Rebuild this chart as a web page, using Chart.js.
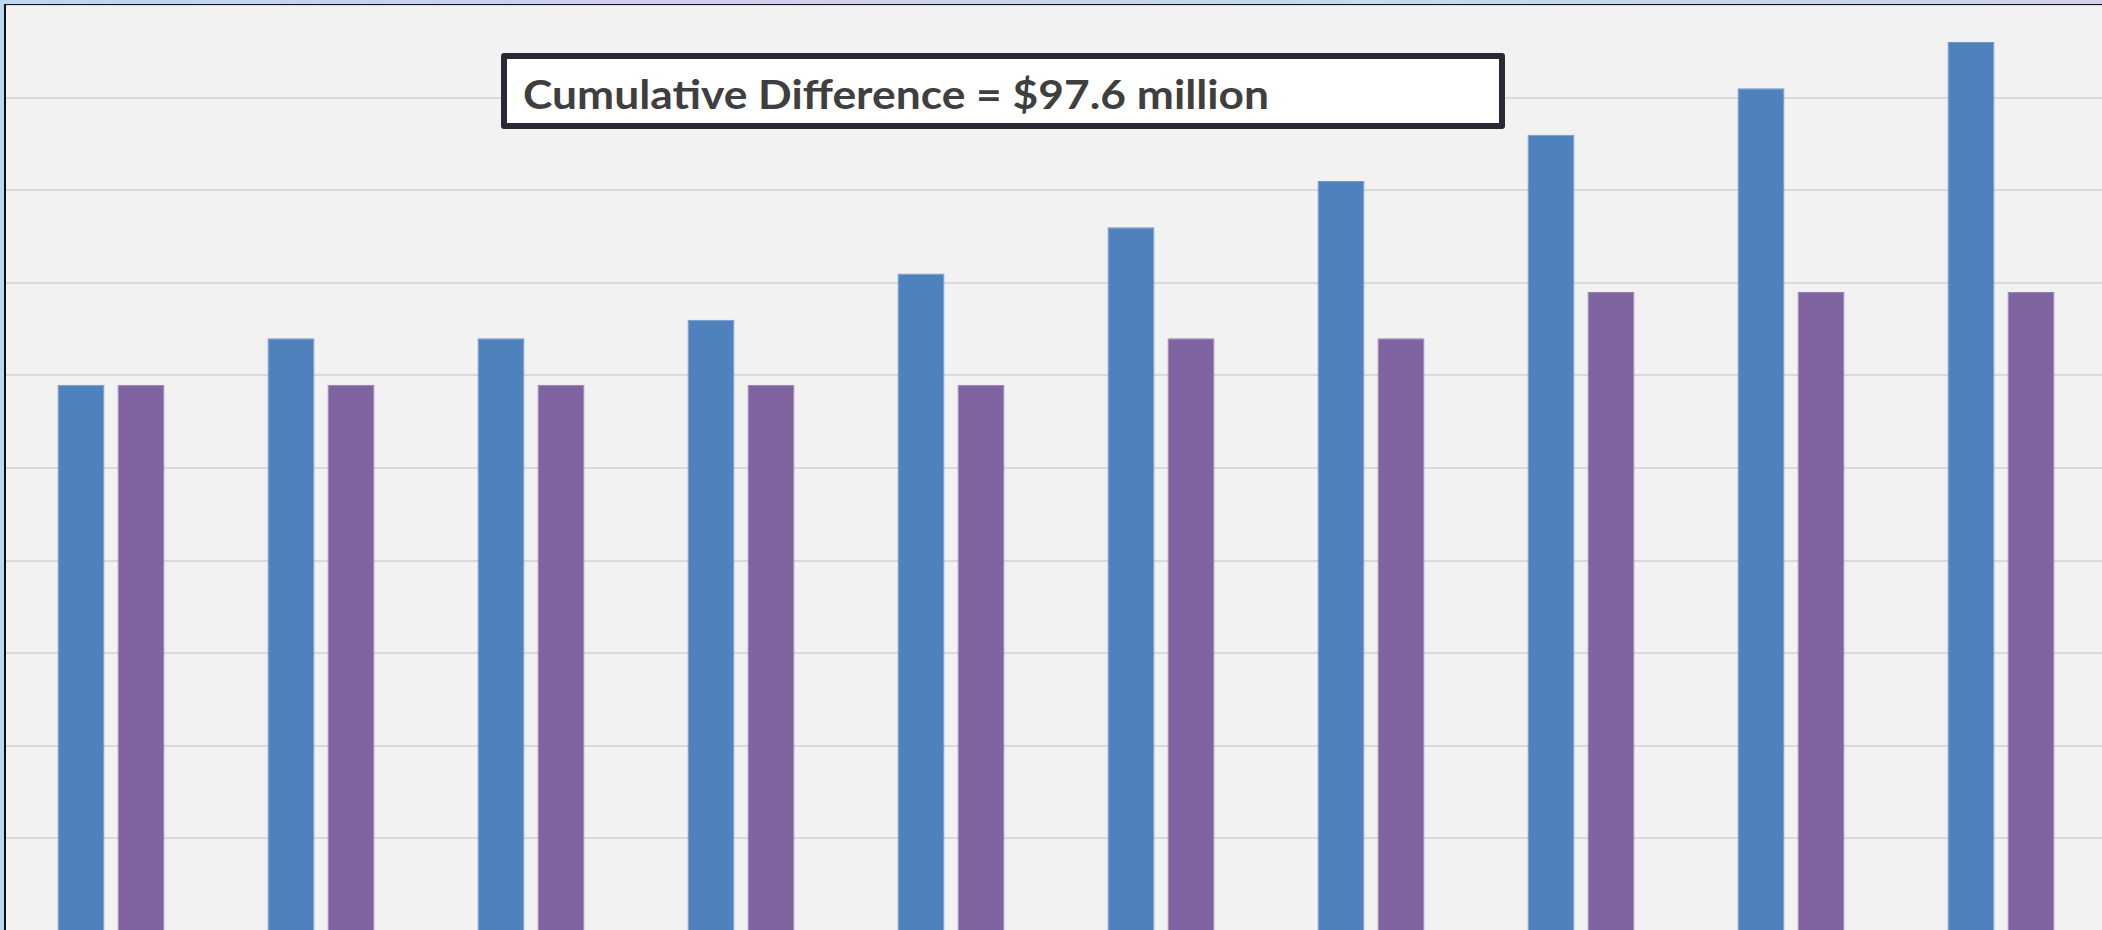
<!DOCTYPE html>
<html>
<head>
<meta charset="utf-8">
<script src="https://cdn.jsdelivr.net/npm/chart.js@4/dist/chart.umd.min.js"></script>
<style>
  html, body { margin: 0; padding: 0; width: 2102px; height: 930px; overflow: hidden; }
  body { background: linear-gradient(90deg, #bcd8ee 0%, #d4cdef 35%, #c2dcf0 65%, #d2d0ee 100%); position: relative; }
  #frame { position: absolute; left: 4px; top: 4px; width: 2120px; height: 940px; background: #F2F2F2;
           border-left: 2px solid #111; border-top: 2px solid #111; box-sizing: border-box; }
  #wrap { position: absolute; left: 6px; top: 5px; width: 2100px; height: 926px; }
  #note { position: absolute; left: 501px; top: 53px; width: 1004px; height: 76px; box-sizing: border-box;
          border: 6px solid #2A2A35; border-radius: 3px; background: #FFFFFF; }
  #noteText { position: absolute; left: 523px; top: 74px; font-family: Lato, "Open Sans", sans-serif; font-weight: bold;
              font-size: 40px; line-height: 40px; color: #3F3F3F; white-space: nowrap; transform-origin: 0 0; }
</style>
</head>
<body>
<div id="frame"></div>
<div id="wrap"><canvas id="c" width="2100" height="926"></canvas></div>
<div id="note"></div>
<div id="noteText">Cumulative Difference = $97.6 million</div>
<script>
// Data (units: one gridline = 10)
const categories = ["1", "2", "3", "4", "5", "6", "7", "8", "9", "10"];
const seriesA = [59, 64, 64, 66, 71, 76, 81, 86, 91, 96];
const seriesB = [59, 59, 59, 59, 59, 64, 64, 69, 69, 69];
const yMin = 0, yMax = 100, yStep = 10;

// fit annotation text width
(function () {
  const el = document.getElementById('noteText');
  const target = 746;
  const w = el.getBoundingClientRect().width;
  if (w > 0) el.style.transform = 'scaleX(' + (target / w) + ')';
})();

new Chart(document.getElementById('c'), {
  type: 'bar',
  data: {
    labels: categories,
    datasets: [
      { label: 'A', data: seriesA, backgroundColor: '#4F81BD', borderColor: '#7097C9', borderWidth: 1, borderSkipped: 'bottom',
        categoryPercentage: 0.5714, barPercentage: 0.7833 },
      { label: 'B', data: seriesB, backgroundColor: '#8064A2', borderColor: '#977FB5', borderWidth: 1, borderSkipped: 'bottom',
        categoryPercentage: 0.5714, barPercentage: 0.7833 }
    ]
  },
  options: {
    responsive: false,
    devicePixelRatio: 1,
    animation: false,
    layout: { padding: 0 },
    plugins: { legend: { display: false }, tooltip: { enabled: false }, title: { display: false } },
    scales: {
      x: { display: false, grid: { display: false } },
      y: {
        min: yMin, max: yMax,
        ticks: { display: false, stepSize: yStep },
        border: { display: false },
        grid: { color: '#DADADA', lineWidth: 2, drawTicks: false, tickLength: 0 }
      }
    }
  }
});
</script>
</body>
</html>
